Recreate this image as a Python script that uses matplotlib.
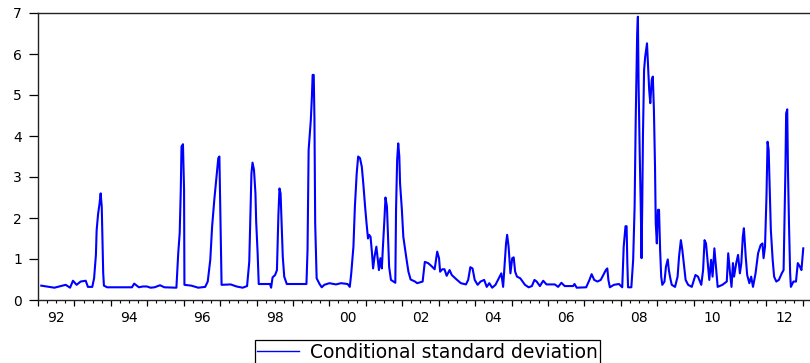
import numpy as np
import matplotlib.pyplot as plt

# decimal year of each read-off point and the conditional s.d. there
years = [
    1992.09, 1992.45, 1992.76, 1992.88, 1992.96, 1993.06, 1993.17, 1993.31, 1993.37, 1993.49,
    1993.54, 1993.59, 1993.61, 1993.65, 1993.69, 1993.72, 1993.75, 1993.77, 1993.79, 1993.81,
    1993.90, 1994.58, 1994.64, 1994.77, 1994.88, 1994.99, 1995.09, 1995.20, 1995.35, 1995.47,
    1995.80, 1995.85, 1995.89, 1995.92, 1995.94, 1995.98, 1996.01, 1996.02, 1996.21, 1996.40,
    1996.59, 1996.66, 1996.73, 1996.78, 1996.84, 1996.91, 1996.95, 1996.98, 1997.00, 1997.02,
    1997.04, 1997.29, 1997.45, 1997.62, 1997.74, 1997.80, 1997.83, 1997.86, 1997.89, 1997.93,
    1997.97, 1997.99, 1998.03, 1998.06, 1998.37, 1998.40, 1998.44, 1998.51, 1998.56, 1998.58,
    1998.60, 1998.63, 1998.66, 1998.69, 1998.72, 1998.76, 1998.83, 1999.37, 1999.40, 1999.43,
    1999.49, 1999.52, 1999.54, 1999.57, 1999.59, 1999.61, 1999.65, 1999.73, 1999.79, 1999.86,
    2000.00, 2000.18, 2000.32, 2000.50, 2000.56, 2000.60, 2000.66, 2000.70, 2000.75, 2000.79,
    2000.84, 2000.89, 2000.93, 2000.98, 2001.02, 2001.06, 2001.09, 2001.13, 2001.17, 2001.20,
    2001.24, 2001.29, 2001.33, 2001.36, 2001.40, 2001.44, 2001.47, 2001.51, 2001.54, 2001.58,
    2001.61, 2001.64, 2001.69, 2001.81, 2001.83, 2001.86, 2001.89, 2001.92, 2001.94, 2001.99,
    2002.03, 2002.08, 2002.12, 2002.17, 2002.23, 2002.35, 2002.41, 2002.56, 2002.62, 2002.71,
    2002.80, 2002.89, 2002.94, 2002.96, 2003.01, 2003.04, 2003.10, 2003.16, 2003.22, 2003.30,
    2003.36, 2003.48, 2003.61, 2003.75, 2003.81, 2003.87, 2003.93, 2003.99, 2004.07, 2004.15,
    2004.25, 2004.32, 2004.39, 2004.47, 2004.56, 2004.65, 2004.72, 2004.77, 2004.82, 2004.85,
    2004.88, 2004.92, 2004.97, 2005.02, 2005.06, 2005.10, 2005.15, 2005.24, 2005.37, 2005.47,
    2005.56, 2005.63, 2005.69, 2005.78, 2005.87, 2005.96, 2006.19, 2006.28, 2006.37, 2006.46,
    2006.69, 2006.73, 2006.79, 2007.05, 2007.14, 2007.20, 2007.27, 2007.36, 2007.45, 2007.52,
    2007.59, 2007.63, 2007.66, 2007.70, 2007.81, 2007.95, 2008.04, 2008.08, 2008.13, 2008.16,
    2008.18, 2008.20, 2008.29, 2008.34, 2008.38, 2008.41, 2008.45, 2008.47, 2008.49, 2008.52,
    2008.55, 2008.57, 2008.59, 2008.61, 2008.64, 2008.67, 2008.72, 2008.75, 2008.78, 2008.81,
    2008.85, 2008.88, 2008.91, 2008.94, 2008.96, 2008.99, 2009.02, 2009.05, 2009.08, 2009.11,
    2009.14, 2009.20, 2009.24, 2009.29, 2009.32, 2009.36, 2009.40, 2009.49, 2009.56, 2009.60,
    2009.65, 2009.69, 2009.74, 2009.78, 2009.85, 2009.95, 2010.05, 2010.12, 2010.21, 2010.26,
    2010.30, 2010.34, 2010.39, 2010.43, 2010.48, 2010.52, 2010.57, 2010.62, 2010.66, 2010.79,
    2010.91, 2010.95, 2011.00, 2011.04, 2011.08, 2011.11, 2011.17, 2011.22, 2011.27, 2011.31,
    2011.35, 2011.38, 2011.43, 2011.47, 2011.53, 2011.58, 2011.63, 2011.70, 2011.77, 2011.84,
    2011.89, 2011.92, 2011.96, 2012.00, 2012.03, 2012.06, 2012.09, 2012.12, 2012.17, 2012.21,
    2012.27, 2012.34, 2012.42, 2012.47, 2012.49, 2012.52, 2012.54, 2012.57, 2012.59, 2012.62,
    2012.65, 2012.67, 2012.74, 2012.81, 2012.86, 2012.92, 2012.96, 2013.01,
]
cond_sd = [
    0.35, 0.30, 0.37, 0.30, 0.47, 0.37, 0.45, 0.47, 0.32, 0.32,
    0.53, 1.10, 1.70, 2.10, 2.35, 2.60, 2.28, 1.46, 0.66, 0.35,
    0.31, 0.31, 0.40, 0.31, 0.33, 0.33, 0.30, 0.31, 0.36, 0.31,
    0.30, 1.14, 1.63, 2.68, 3.74, 3.80, 2.68, 0.37, 0.35, 0.30,
    0.32, 0.45, 0.98, 1.79, 2.44, 3.09, 3.46, 3.50, 2.48, 1.38,
    0.37, 0.38, 0.33, 0.30, 0.34, 0.93, 1.99, 3.09, 3.35, 3.17,
    2.60, 1.91, 1.14, 0.39, 0.39, 0.30, 0.55, 0.61, 0.73, 1.38,
    2.07, 2.72, 2.60, 1.79, 1.06, 0.57, 0.39, 0.39, 1.22, 3.66,
    4.39, 4.96, 5.49, 5.49, 4.39, 1.87, 0.53, 0.39, 0.31, 0.37,
    0.41, 0.38, 0.41, 0.39, 0.32, 0.65, 1.30, 2.28, 3.09, 3.50,
    3.46, 3.25, 2.85, 2.28, 1.87, 1.50, 1.59, 1.54, 1.14, 0.77,
    1.06, 1.30, 0.98, 0.73, 1.02, 0.77, 1.30, 1.95, 2.50, 2.28,
    1.54, 0.81, 0.49, 0.42, 2.20, 3.41, 3.82, 3.50, 2.85, 2.20,
    1.54, 1.22, 0.98, 0.69, 0.50, 0.45, 0.41, 0.45, 0.93, 0.90,
    0.83, 0.75, 1.06, 1.18, 1.02, 0.69, 0.75, 0.75, 0.59, 0.73,
    0.61, 0.51, 0.41, 0.38, 0.49, 0.80, 0.77, 0.49, 0.37, 0.45,
    0.49, 0.32, 0.41, 0.30, 0.37, 0.53, 0.65, 0.32, 0.98, 1.38,
    1.59, 1.30, 0.65, 1.02, 1.04, 0.69, 0.57, 0.53, 0.37, 0.31,
    0.34, 0.49, 0.45, 0.34, 0.47, 0.38, 0.38, 0.32, 0.42, 0.34,
    0.34, 0.39, 0.30, 0.31, 0.49, 0.63, 0.49, 0.45, 0.49, 0.61,
    0.73, 0.77, 0.49, 0.31, 0.37, 0.39, 0.31, 1.30, 1.80, 1.80,
    0.90, 0.31, 0.31, 0.98, 2.28, 4.39, 6.50, 6.91, 5.20, 3.58,
    2.20, 1.02, 2.36, 4.07, 5.61, 5.93, 6.26, 5.69, 5.12, 4.80,
    5.37, 5.45, 4.63, 3.25, 1.87, 1.38, 2.20, 2.20, 1.22, 0.57,
    0.37, 0.45, 0.81, 0.99, 0.73, 0.53, 0.37, 0.32, 0.57, 1.06,
    1.46, 1.22, 0.81, 0.49, 0.37, 0.32, 0.61, 0.57, 0.37, 0.73,
    1.46, 1.38, 0.90, 0.49, 0.98, 0.57, 1.26, 0.73, 0.32, 0.37,
    0.45, 1.14, 0.65, 0.32, 0.90, 0.57, 0.90, 1.10, 0.65, 0.90,
    1.54, 1.75, 1.06, 0.61, 0.41, 0.57, 0.32, 0.65, 1.14, 1.34,
    1.38, 1.02, 1.30, 2.52, 3.86, 3.66, 2.68, 1.71, 0.98, 0.57,
    0.45, 0.49, 0.65, 0.73, 1.71, 3.17, 4.55, 4.65, 3.17, 1.79,
    0.65, 0.32, 0.45, 0.45, 0.90, 0.81, 0.73, 1.26,
]
label_years = [1992, 1994, 1996, 1998, 2000, 2002, 2004, 2006, 2008, 2010, 2012]
year_labels = ["92", "94", "96", "98", "00", "02", "04", "06", "08", "10", "12"]

plt.rcParams['font.family'] = ['DejaVu Sans']

fig = plt.figure(figsize=(8.1, 3.63), dpi=100)
ax = fig.add_axes([38 / 810, 63 / 363, 774 / 810, 287 / 363])

ax.plot(years, cond_sd, color='#0000ff', lw=1.5, label='Conditional standard deviation')

ax.set_xlim(1992.087, 2013.06)
ax.set_ylim(0, 7)
ax.set_yticks(range(8))
ax.tick_params(axis='y', direction='out', length=6.5, width=0.9, pad=5, labelsize=10)

# year ticks, quarter ticks, labels centred in each even year
ax.set_xticks(np.arange(1992, 2014))
ax.set_xticks(np.arange(1992, 2013.5, 0.25), minor=True)
ax.tick_params(axis='x', which='major', length=4, width=0.9, labelbottom=False)
ax.tick_params(axis='x', which='minor', length=2, width=0.8)
ax.spines['right'].set_visible(False)
for s in ['left', 'top', 'bottom']:
    ax.spines[s].set_linewidth(1.0)
    ax.spines[s].set_color('#222222')

sec = ax.secondary_xaxis('bottom')
sec.set_xticks(np.array(label_years) + 0.5, labels=year_labels)
sec.tick_params(length=0, pad=8, labelsize=10)
sec.spines['bottom'].set_visible(False)

leg = fig.legend(loc='center', bbox_to_anchor=(427.5 / 810, 11 / 363), fontsize=13.5,
                 frameon=True, fancybox=False, edgecolor='black', framealpha=1,
                 handlelength=2.2, handletextpad=0.6, borderpad=0.12)
leg.get_frame().set_linewidth(0.9)
for line in leg.get_lines():
    line.set_linewidth(1.0)

fig.savefig("out.png", dpi=100)
